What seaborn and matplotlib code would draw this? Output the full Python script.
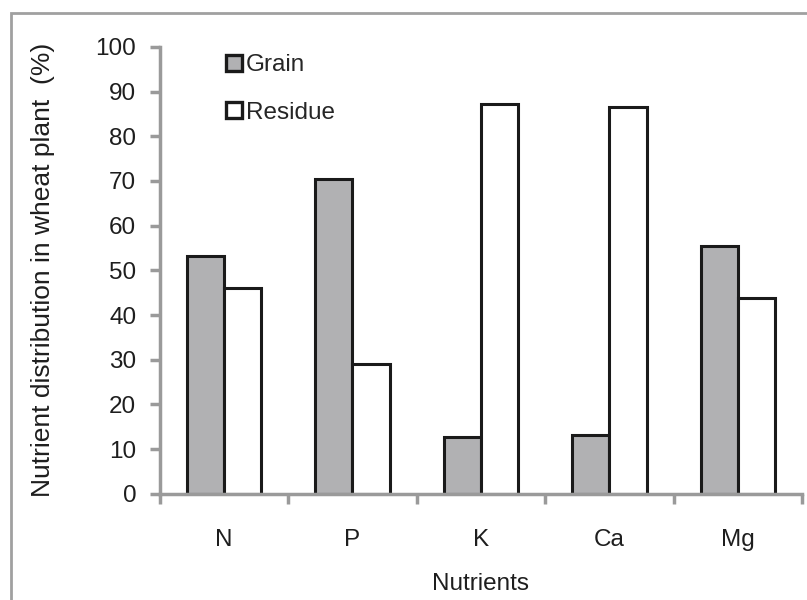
import matplotlib
matplotlib.use("Agg")
import matplotlib.pyplot as plt
import seaborn as sns
import pandas as pd
from matplotlib.patches import Rectangle
from matplotlib.lines import Line2D

categories = ["N", "P", "K", "Ca", "Mg"]
grain = [53.3, 70.5, 12.7, 13.2, 55.5]
residue = [46.0, 29.0, 87.3, 86.5, 43.8]
yticks = [0, 10, 20, 30, 40, 50, 60, 70, 80, 90, 100]

df = pd.DataFrame({
    "Nutrient": categories * 2,
    "Value": grain + residue,
    "Part": ["Grain"] * len(categories) + ["Residue"] * len(categories),
})

sns.set_theme(style="white")
plt.rcParams["font.family"] = ["Liberation Sans", "DejaVu Sans"]

fig = plt.figure(figsize=(8.07, 6.0), dpi=100)
ax = fig.add_axes([0.198, 0.177, 0.796, 0.745])

gray = "#b1b1b3"
axcol = "#9a9a9a"
txt = "#1e1e1e"
fs = 17.5
sns.barplot(data=df, x="Nutrient", y="Value", hue="Part", order=categories,
            palette={"Grain": gray, "Residue": "white"}, width=0.58, gap=0,
            edgecolor="#1a1a1a", linewidth=2.2, ax=ax, legend=False, saturation=1)

ax.set_ylim(0, 100)
ax.set_xlim(-0.5, 4.5)
ax.set_yticks(yticks)
ax.set_yticklabels([str(v) for v in yticks], fontsize=fs, color=txt)
ax.set_xticks([-0.5, 0.5, 1.5, 2.5, 3.5, 4.5])
ax.set_xticklabels([])
ax.set_xticks(range(len(categories)), minor=True)
ax.set_xticklabels(categories, minor=True, fontsize=fs, color=txt)
ax.tick_params(axis="x", which="major", bottom=True, length=7, width=2.5, color=axcol, direction="out")
ax.tick_params(axis="x", which="minor", bottom=True, length=0, pad=25)
ax.tick_params(axis="y", which="major", left=True, length=7, width=2.5, color=axcol, direction="out", pad=10)

for s in ["top", "right"]:
    ax.spines[s].set_visible(False)
for s in ["left", "bottom"]:
    ax.spines[s].set_color(axcol)
    ax.spines[s].set_linewidth(2.5)

ax.set_xlabel("Nutrients", fontsize=fs, color=txt, labelpad=16)
ax.set_ylabel("Nutrient distribution in wheat plant  (%)", fontsize=19, color=txt, labelpad=29)

handles = [
    Line2D([], [], marker="s", linestyle="none", markersize=12, markerfacecolor=gray,
           markeredgecolor="#1a1a1a", markeredgewidth=2.4),
    Line2D([], [], marker="s", linestyle="none", markersize=12, markerfacecolor="white",
           markeredgecolor="#1a1a1a", markeredgewidth=2.4),
]
ax.legend(handles, ["Grain", "Residue"], loc="upper left", bbox_to_anchor=(0.087, 1.005),
          frameon=False, fontsize=fs, handlelength=0.7, handletextpad=0.15,
          labelspacing=1.05, borderaxespad=0)

fig.patches.append(Rectangle((11 / 807, -0.1), 1.2, (600 - 13) / 600 + 0.1,
                             transform=fig.transFigure, fill=False,
                             edgecolor="#a0a0a0", linewidth=2.0))

fig.savefig("out.png", dpi=100)
